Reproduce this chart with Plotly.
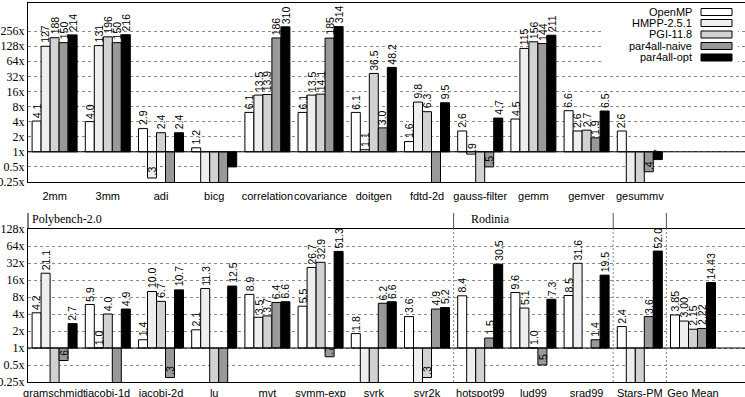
import math
import plotly.graph_objects as go

# ---------------- data ----------------
series = ["OpenMP", "HMPP-2.5.1", "PGI-11.8", "par4all-naive", "par4all-opt"]
colors = ["#ffffff", "#eeeeee", "#d2d2d2", "#999999", "#000000"]

OFF = 0.1  # value below the axis floor (bar runs off the bottom, no label)

top_cats = ["2mm", "3mm", "adi", "bicg", "correlation", "covariance", "doitgen",
            "fdtd-2d", "gauss-filter", "gemm", "gemver", "gesummv"]
top_openmp = [4.1, 4.0, 2.9, 1.2, 6.1, 6.1, 6.1, 1.6, 2.6, 4.5, 6.6, 2.6]
top_hmpp = [127, 131, 0.3, OFF, 13.5, 13.5, 1.1, 9.8, 0.9, 115, 2.6, OFF]
top_pgi = [188, 196, 2.4, OFF, 13.9, 14.1, 36.5, 6.3, OFF, 156, 2.7, OFF]
top_naive = [150, 150, OFF, OFF, 186, 185, 3.0, OFF, 0.5, 144, 1.9, 0.4]
top_opt = [214, 216, 2.4, 0.5, 310, 314, 48.2, 9.5, 4.7, 211, 6.5, 0.7]

bot_cats = ["gramschmidt", "jacobi-1d", "jacobi-2d", "lu", "mvt", "symm-exp", "syrk",
            "syr2k", "hotspot99", "lud99", "srad99", "Stars-PM", "Geo Mean"]
bot_openmp = [4.2, 5.9, 1.4, 2.1, 8.9, 5.5, 1.8, 3.6, 8.4, 9.6, 8.5, 2.4, 3.85]
bot_hmpp = [21.1, 1.0, 10.0, 11.3, 3.5, 26.7, OFF, OFF, OFF, 5.1, 31.6, OFF, 3.00]
bot_pgi = [OFF, 4.0, 6.7, OFF, 3.7, 32.9, OFF, 0.3, OFF, 1.0, None, OFF, 2.15]
bot_naive = [0.6, OFF, 0.3, OFF, 6.4, 0.7, 6.2, 4.9, 1.5, 0.5, 1.4, 3.6, 2.22]
bot_opt = [2.7, 4.9, 10.7, 12.5, 6.6, 51.3, 6.6, 5.2, 30.5, 7.3, 19.5, 52.0, 14.43]

top_ticks = [0.25, 0.5, 1, 2, 4, 8, 16, 32, 64, 128, 256]
top_ticktext = ["0.25x", "0.5x", "1x", "2x", "4x", "8x", "16x", "32x", "64x", "128x", "256x"]
bot_ticks = [0.25, 0.5, 1, 2, 4, 8, 16, 32, 64, 128]
bot_ticktext = ["0.25x", "0.5x", "1x", "2x", "4x", "8x", "16x", "32x", "64x", "128x"]

sections = ["Polybench-2.0", "Rodinia"]

# ---------------- layout helpers ----------------
W, H = 745, 397


def px(x):
    return x / W


def py(y):
    return 1 - y / H


BARGAP = 0.154
BW = (1 - BARGAP) / 5
XR = [-0.5, -0.5 + 717 / 53.2]

SANS = "Liberation Sans, Arial, sans-serif"
SERIF = "Liberation Serif, Times New Roman, serif"


def fmt(v, two=False):
    if two:
        return f"{v:.2f}"
    if v >= 100:
        return f"{v:.0f}"
    if v < 1:
        return f"{v:.1f}"[1:]
    return f"{v:.1f}"


fig = go.Figure()
annotations = []

panels = [
    dict(cats=top_cats, vals=[top_openmp, top_hmpp, top_pgi, top_naive, top_opt], xa="x", ya="y"),
    dict(cats=bot_cats, vals=[bot_openmp, bot_hmpp, bot_pgi, bot_naive, bot_opt], xa="x2", ya="y2"),
]

for p in panels:
    xs = list(range(len(p["cats"])))
    for k, (name, col) in enumerate(zip(series, colors)):
        vals = p["vals"][k]
        fig.add_trace(go.Bar(
            x=xs, y=[None if v is None else v - 1 for v in vals], base=1,
            name=name, marker=dict(color=col, line=dict(color="black", width=1)),
            xaxis=p["xa"], yaxis=p["ya"], showlegend=False, hoverinfo="skip"))
        for i, v in enumerate(vals):
            if v is None or v < 0.25:
                continue
            two = p["cats"][i] == "Geo Mean"
            annotations.append(dict(
                x=i + (k - 2) * BW, y=math.log10(v), xref=p["xa"], yref=p["ya"],
                text=fmt(v, two), textangle=-90, showarrow=False,
                xanchor="center", yanchor="bottom", yshift=2 if v >= 1 else 1,
                borderpad=0, font=dict(family=SANS, size=10.5, color="black")))

shapes = []
# 1x baselines
for xa, ya in [("x", "y"), ("x2", "y2")]:
    shapes.append(dict(type="line", xref=f"{xa} domain", yref=ya, x0=0, x1=1, y0=1, y1=1,
                       line=dict(color="black", width=1), layer="above"))

# legend (text left of swatch)
shapes.append(dict(type="rect", xref="paper", yref="paper", x0=px(603), x1=px(738),
                   y0=py(66), y1=py(4.5), fillcolor="white", line=dict(width=0), layer="above"))
leg_rows = [12, 23, 34.5, 46, 57.5]
for name, col, yy in zip(series, colors, leg_rows):
    shapes.append(dict(type="rect", xref="paper", yref="paper", x0=px(701), x1=px(732),
                       y0=py(yy + 3.5), y1=py(yy - 3.5), fillcolor=col,
                       line=dict(color="black", width=1), layer="above"))
    annotations.append(dict(x=px(694), y=py(yy), xref="paper", yref="paper", text=name,
                            showarrow=False, xanchor="right", yanchor="middle",
                            font=dict(family=SANS, size=11, color="black")))

# bottom panel header: left border extension and section separators
shapes.append(dict(type="line", xref="paper", yref="paper", x0=px(28), x1=px(28),
                   y0=py(229), y1=py(213), line=dict(color="black", width=1), layer="above"))
for xs in [7.5, 10.5, 11.5]:
    shapes.append(dict(type="line", xref="x2", yref="paper", x0=xs, x1=xs,
                       y0=py(229), y1=py(213), line=dict(color="#555555", width=1), layer="above"))
    shapes.append(dict(type="line", xref="x2", yref="paper", x0=xs, x1=xs,
                       y0=py(382), y1=py(229), line=dict(color="#888888", width=1, dash="2px,2px"),
                       layer="above"))

annotations.append(dict(x=px(30), y=py(218.5), xref="paper", yref="paper", text=sections[0],
                        showarrow=False, xanchor="left", yanchor="middle",
                        font=dict(family=SERIF, size=12, color="black")))
annotations.append(dict(x=7.5, xshift=15, y=py(218.5), xref="x2", yref="paper", text=sections[1],
                        showarrow=False, xanchor="left", yanchor="middle",
                        font=dict(family=SERIF, size=12, color="black")))

L2 = math.log10(2)
xcommon = dict(range=XR, showline=True, linecolor="black", linewidth=1, mirror=True,
               ticks="", showgrid=False, zeroline=False, automargin=False, tickangle=0,
               tickfont=dict(family=SANS, size=11, color="black"))
ycommon = dict(type="log", showline=True, linecolor="black", linewidth=1, ticks="",
               showgrid=True, gridcolor="#8a8a8a", gridwidth=1, griddash="dot",
               zeroline=False, automargin=False,
               tickfont=dict(family=SERIF, size=12, color="black"))

fig.update_layout(
    width=W, height=H, margin=dict(l=0, r=0, t=0, b=0),
    paper_bgcolor="white", plot_bgcolor="white",
    barmode="group", bargap=BARGAP, bargroupgap=0,
    xaxis=dict(domain=[px(28), 1], anchor="y", tickvals=list(range(len(top_cats))),
               ticktext=top_cats, ticklabelstandoff=4, **xcommon),
    yaxis=dict(domain=[py(182), py(3)], anchor="x",
               range=[math.log10(0.25), math.log10(256) + (28 / 15.1) * L2],
               tickvals=top_ticks, ticktext=top_ticktext, **ycommon),
    xaxis2=dict(domain=[px(28), 1], anchor="y2", tickvals=list(range(len(bot_cats))),
                ticktext=bot_cats, ticklabelstandoff=1, **xcommon),
    yaxis2=dict(domain=[py(382), py(229)], anchor="x2",
                range=[math.log10(0.25), math.log10(128)],
                tickvals=bot_ticks, ticktext=bot_ticktext, **ycommon),
    shapes=shapes, annotations=annotations,
)

fig.write_html("out.html")
